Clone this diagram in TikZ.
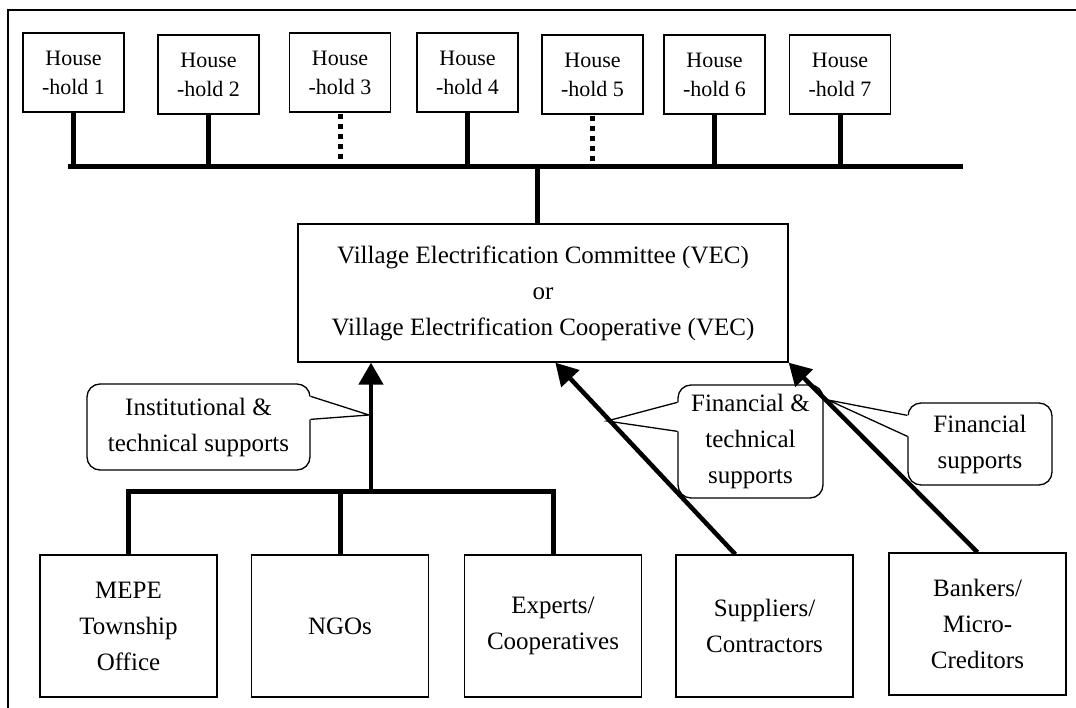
\documentclass[tikz,border=0pt]{standalone}
\usepackage{fontspec}
\setmainfont{Liberation Serif}
\usetikzlibrary{arrows.meta,calc}
\begin{document}
\begin{tikzpicture}[x=1pt,y=-1pt,
  box/.style={draw,line width=1.3pt,inner sep=0pt,align=center},
  hbox/.style={box,minimum width=101pt,minimum height=79pt,font=\fontsize{22}{29}\selectfont},
  sbox/.style={box,minimum width=177pt,minimum height=142pt,font=\fontsize{25}{36}\selectfont},
  wire/.style={line width=5pt},
  dotwire/.style={line width=5pt,dash pattern=on 5pt off 5pt},
  feed/.style={line width=4.5pt,-{Triangle[length=22pt,width=24pt]}},
  note/.style={draw,line width=1.3pt,fill=white,rounded corners=13pt,inner sep=0pt,align=center,font=\fontsize{25}{36}\selectfont},
  tail/.style={line width=1.3pt}
]
\useasboundingbox (0,0) rectangle (1076,708);

% outer frame
\draw[line width=1.2pt] (8,708) -- (8,10) -- (1076,10);

% households
\node[hbox] (h1) at (73.5,72.5) {House\\-hold 1};
\node[hbox] (h2) at (208.5,74.5) {House\\-hold 2};
\node[hbox] (h3) at (340,72.5) {House\\-hold 3};
\node[hbox] (h4) at (467.5,72.5) {House\\-hold 4};
\node[hbox] (h5) at (592.5,74.5) {House\\-hold 5};
\node[hbox] (h6) at (714.5,74.5) {House\\-hold 6};
\node[hbox] (h7) at (840,74.5) {House\\-hold 7};

% distribution line
\coordinate (busL) at (68,167);
\coordinate (busR) at (963,167);
\coordinate (stub) at (537,167);
\draw[wire] (busL) -- (busR);
\foreach \h in {h1,h2,h4,h6,h7}
  \draw[wire] (\h.south) -- (\h.south |- busL);
\foreach \h in {h3,h5}
  \draw[dotwire] ($(\h.south)+(0,1)$) -- ($(\h.south |- busL)+(0,-6)$);

% committee / cooperative
\node[box,minimum width=490pt,minimum height=138pt,font=\fontsize{25}{36}\selectfont] (vec) at (543,293)
  {Village Electrification Committee (VEC)\\or\\Village Electrification Cooperative (VEC)};
\draw[wire] (stub) -- (stub |- vec.north);

% supporting bodies
\node[sbox] (mepe) at (128.5,626) {MEPE\\Township\\Office};
\node[sbox] (ngo) at (340,626) {NGOs};
\node[sbox] (exp) at (553,626) {Experts/\\Cooperatives};
\node[sbox] (sup) at (764.5,626) {Suppliers/\\Contractors};
\node[sbox] (bank) at (977.5,624) {Bankers/\\Micro-\\Creditors};

% institutional support line
\coordinate (bot) at (0,491);
\coordinate (up) at (371,491);
\draw[wire] (mepe.north) -- (mepe.north |- bot) -- (exp.north |- bot) -- (exp.north);
\draw[wire] (ngo.north) -- (ngo.north |- bot);

% callouts
\node[note,minimum width=223pt,minimum height=86pt] (c1) at (198.5,427) {Institutional \&\\technical supports};
\coordinate (t1) at (369,415);
\fill[white] ($(c1.north east)+(-1.5,13)$) -- (t1) -- ($(c1.north east)+(-1.5,36)$) -- cycle;
\draw[tail] ($(c1.north east)+(0,13)$) -- (t1) -- ($(c1.north east)+(0,36)$);

\node[note,minimum width=145pt,minimum height=113pt] (c2) at (750.5,441.5) {Financial \&\\technical\\supports};
\coordinate (t2) at (607,421);
\fill[white] ($(c2.north west)+(1.5,18)$) -- (t2) -- ($(c2.north west)+(1.5,47)$) -- cycle;
\draw[tail] ($(c2.north west)+(0,18)$) -- (t2) -- ($(c2.north west)+(0,47)$);

\node[note,minimum width=144pt,minimum height=82pt] (c3) at (980,444) {Financial\\supports};
\coordinate (t3) at (828,400);
\fill[white] ($(c3.north west)+(1.5,13)$) -- (t3) -- ($(c3.north west)+(1.5,34)$) -- cycle;
\draw[tail] ($(c3.north west)+(0,13)$) -- (t3) -- ($(c3.north west)+(0,34)$);

% support arrows
\draw[feed] (up) -- (up |- vec.south);
\coordinate (supTop) at ($(sup.north west)+(60,0)$);
\coordinate (supTip) at ($(vec.south west)+(258,0)$);
\draw[feed] (supTop) -- (supTip);
\draw[feed] (bank.north) -- (vec.south east);
\end{tikzpicture}
\end{document}
